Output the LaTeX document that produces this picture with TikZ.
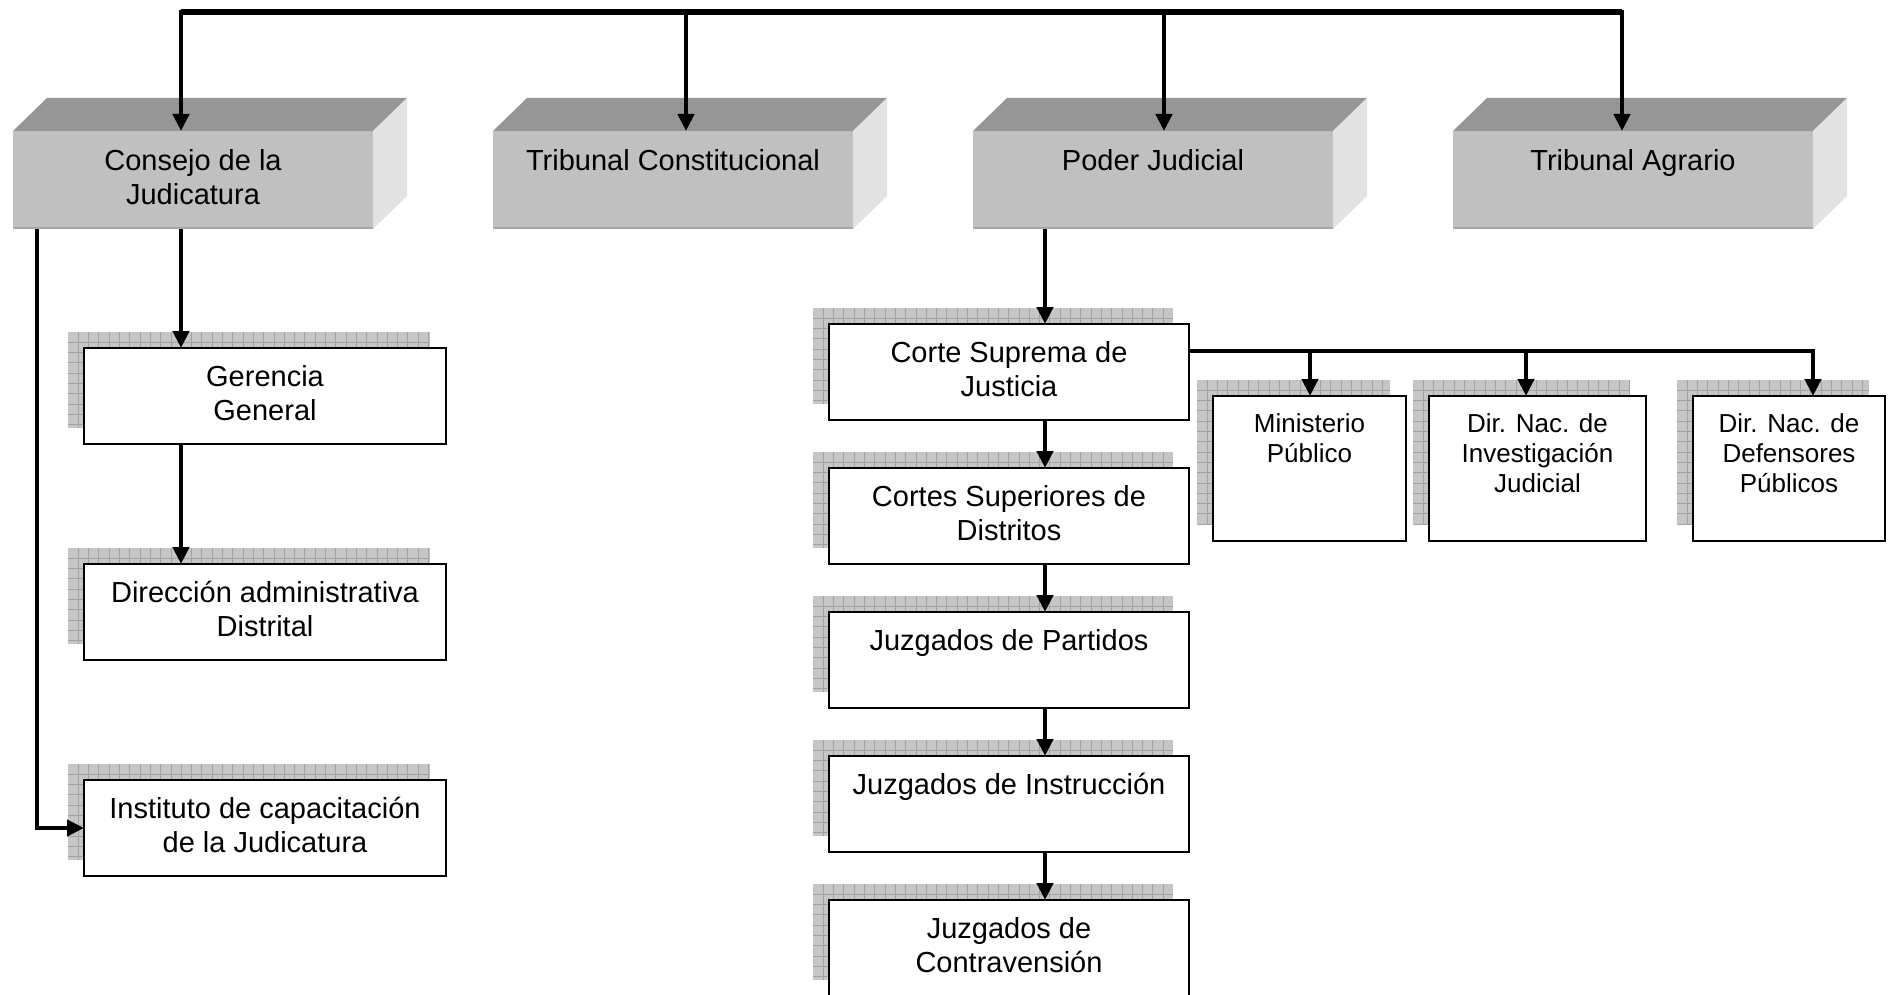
\documentclass[tikz,border=0pt]{standalone}
\usepackage{fontspec}
\setmainfont{Liberation Sans}
\usetikzlibrary{arrows.meta}

\definecolor{frontgray}{HTML}{C0C0C0}
\definecolor{topgray}{HTML}{969696}
\definecolor{sidegray}{HTML}{E2E2E2}
\definecolor{edgegray}{HTML}{A6A6A6}
\definecolor{shadowgray}{HTML}{C6C6C6}
\definecolor{gridgray}{HTML}{A2A2A2}

\tikzset{
  face/.style={rectangle, fill=frontgray, minimum width=360pt, minimum height=98pt,
    inner sep=0pt, outer sep=0pt},
  wbox/.style={rectangle, draw=black, line width=2pt, fill=white, inner sep=0pt, outer sep=0pt},
  bigtxt/.style={font=\fontsize{29}{34}\selectfont, align=center, inner sep=0pt, anchor=north},
  smalltxt/.style={font=\fontsize{26}{30}\selectfont, align=center, inner sep=0pt, anchor=north},
  conn/.style={line width=4.5pt, line join=miter, >={Triangle[length=17pt,width=16pt]}}
}

% raised grey block: front face node plus top and side faces
\newcommand\solidblock[3]{%
  \node[face] (#1) at (#2,#3) {};
  \fill[topgray] (#1.north west) -- ++(34,-33) -- ++(360,0) -- (#1.north east) -- cycle;
  \fill[sidegray] (#1.north east) -- ++(34,-33) -- ++(0,98) -- (#1.south east) -- cycle;
  \draw[edgegray, line width=2pt] ([yshift=1pt]#1.south west) -- ([yshift=1pt]#1.south east);
}

% white box with a gridded drop shadow behind its upper-left corner
\newcommand\gridbox[5]{%
  \begin{scope}[shift={(#2-#4/2-16,#3-#5/2-16)}]
    \fill[shadowgray] (0,0) rectangle (#4,#5);
    \foreach \gx in {10.3,20.6,...,#4} \draw[gridgray, line width=1pt] (\gx,0) -- (\gx,#5);
    \foreach \gy in {10.3,20.6,...,#5} \draw[gridgray, line width=1pt] (0,\gy) -- (#4,\gy);
  \end{scope}
  \node[wbox, minimum width=#4pt, minimum height=#5pt] (#1) at (#2,#3) {};
}

\begin{document}
\begin{tikzpicture}[x=1pt, y=-1pt]
  \useasboundingbox (0,0) rectangle (1890,995);
  \fill[white] (0,0) rectangle (1890,995);
  \clip (0,0) rectangle (1890,995);

  % top-level institutions
  \solidblock{cons}{193}{180}
  \solidblock{tc}{673}{180}
  \solidblock{pj}{1153}{180}
  \solidblock{agr}{1633}{180}
  \node[bigtxt] (consT) at ([yshift=-18pt]cons.north) {Consejo de la\\Judicatura};
  \node[bigtxt] (tcT) at ([yshift=-18pt]tc.north) {Tribunal Constitucional};
  \node[bigtxt] (pjT) at ([yshift=-18pt]pj.north) {Poder Judicial};
  \node[bigtxt] (agrT) at ([yshift=-18pt]agr.north) {Tribunal Agrario};

  % Consejo de la Judicatura branch
  \gridbox{ger}{265}{396}{362}{96}
  \gridbox{dir}{265}{612}{362}{96}
  \gridbox{ins}{265}{828}{362}{96}
  \node[bigtxt] (gerT) at ([yshift=-17pt]ger.north) {Gerencia\\General};
  \node[bigtxt] (dirT) at ([yshift=-17pt]dir.north) {Dirección administrativa\\Distrital};
  \node[bigtxt] (insT) at ([yshift=-17pt]ins.north) {Instituto de capacitación\\de la Judicatura};

  % Poder Judicial branch
  \gridbox{cs}{1009}{372}{360}{96}
  \gridbox{csd}{1009}{516}{360}{96}
  \gridbox{jp}{1009}{660}{360}{96}
  \gridbox{ji}{1009}{804}{360}{96}
  \gridbox{jc}{1009}{948}{360}{96}
  \node[bigtxt] (csT) at ([yshift=-17pt]cs.north) {Corte Suprema de\\Justicia};
  \node[bigtxt] (csdT) at ([yshift=-17pt]csd.north) {Cortes Superiores de\\Distritos};
  \node[bigtxt] (jpT) at ([yshift=-17pt]jp.north) {Juzgados de Partidos};
  \node[bigtxt] (jiT) at ([yshift=-17pt]ji.north) {Juzgados de Instrucción};
  \node[bigtxt] (jcT) at ([yshift=-17pt]jc.north) {Juzgados de\\Contravensión};

  % bodies depending on the Corte Suprema
  \gridbox{mp}{1309.5}{468.5}{193}{145}
  \gridbox{inv}{1537.5}{468.5}{217}{145}
  \gridbox{def}{1789}{468.5}{192}{145}
  \node[smalltxt] (mpT) at ([yshift=-17pt]mp.north) {Ministerio\\Público};
  \node[smalltxt] (invT) at ([yshift=-17pt]inv.north) {Dir. Nac. de\\Investigación\\Judicial};
  \node[smalltxt] (defT) at ([yshift=-17pt]def.north) {Dir. Nac. de\\Defensores\\Públicos};

  % connector x positions and bus levels
  \coordinate (busL) at (181,12);
  \coordinate (busR) at (1622,12);
  \coordinate (tcx) at (686,12);
  \coordinate (pjx) at (1164,12);
  \coordinate (gx) at (181,0);
  \coordinate (ix) at (37,0);
  \coordinate (jx) at (1045,0);
  \coordinate (hy) at (0,351);
  \coordinate (mx) at (1310,0);
  \coordinate (vx) at (1526,0);
  \coordinate (dx) at (1813,0);

  % top bus
  \draw[conn, <->] (cons.north -| busL) -- (busL) -- (busR) -- (agr.north -| busR);
  \draw[line width=5.5pt] (busL) -- (busR);
  \draw[conn, ->] (tcx) -- (tcx |- tc.north);
  \draw[conn, ->] (pjx) -- (pjx |- pj.north);

  % Consejo branch connectors
  \draw[conn, ->] (cons.south -| gx) -- (ger.north -| gx);
  \draw[conn, ->] (ger.south -| gx) -- (dir.north -| gx);
  \draw[conn, ->] (cons.south -| ix) |- (ins.west);

  % Poder Judicial chain
  \draw[conn, ->] (pj.south -| jx) -- (cs.north -| jx);
  \draw[conn, ->] (cs.south -| jx) -- (csd.north -| jx);
  \draw[conn, ->] (csd.south -| jx) -- (jp.north -| jx);
  \draw[conn, ->] (jp.south -| jx) -- (ji.north -| jx);
  \draw[conn, ->] (ji.south -| jx) -- (jc.north -| jx);

  % Corte Suprema to its dependent bodies
  \draw[conn, ->] (cs.east |- hy) -| (def.north -| dx);
  \draw[conn, ->] (mx |- hy) -- (mp.north -| mx);
  \draw[conn, ->] (vx |- hy) -- (inv.north -| vx);
\end{tikzpicture}
\end{document}
